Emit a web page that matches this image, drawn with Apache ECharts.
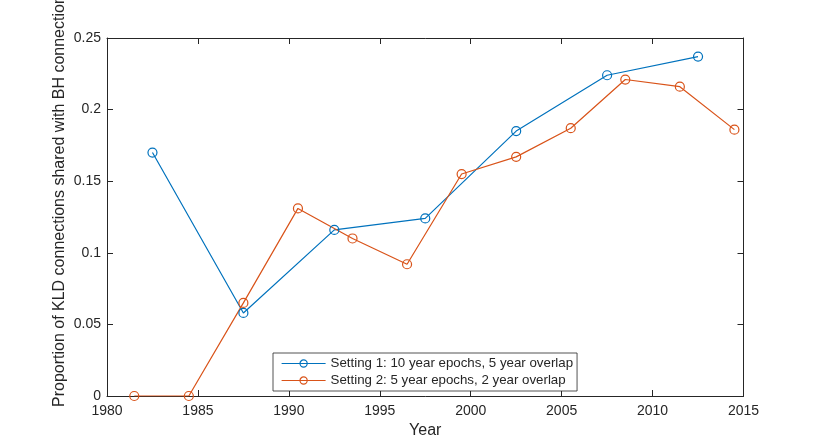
<!DOCTYPE html>
<html>
<head>
<meta charset="utf-8">
<script src="https://cdn.jsdelivr.net/npm/echarts@6/dist/echarts.min.js"></script>
<style>html,body{margin:0;padding:0;background:#fff}#c{width:822px;height:445px}</style>
</head>
<body>
<div id="c"></div>
<script>
var years1 = [1982.5, 1987.5, 1992.5, 1997.5, 2002.5, 2007.5, 2012.5];
var values1 = [0.170, 0.058, 0.116, 0.124, 0.185, 0.224, 0.237];
var years2 = [1981.5, 1984.5, 1987.5, 1990.5, 1993.5, 1996.5, 1999.5, 2002.5, 2005.5, 2008.5, 2011.5, 2014.5];
var values2 = [0, 0, 0.065, 0.131, 0.110, 0.092, 0.155, 0.167, 0.187, 0.221, 0.216, 0.186];
var name1 = 'Setting 1: 10 year epochs, 5 year overlap';
var name2 = 'Setting 2: 5 year epochs, 2 year overlap';
var xLabel = 'Year';
var yLabel = 'Proportion of KLD connections shared with BH connections';

var FONT = '"Liberation Sans", Arial, sans-serif';
var INK = '#262626';
var BLUE = '#0072BD', ORANGE = '#D95319';

function pairs(xs, ys) { return xs.map(function (x, i) { return [x, ys[i]]; }); }

function xAx(pos, show) {
  return {
    type: 'value', position: pos, min: 1980, max: 2015, interval: 5,
    name: show ? xLabel : '', nameLocation: 'middle', nameGap: 26,
    nameTextStyle: { fontFamily: FONT, fontSize: 16, color: INK },
    axisLine: { show: true, onZero: false, lineStyle: { color: INK, width: 1 } },
    axisTick: { show: true, inside: true, length: 6, lineStyle: { color: INK } },
    axisLabel: { show: show, margin: 8, fontFamily: FONT, fontSize: 14, color: INK,
      formatter: function (v) { return String(v); } },
    splitLine: { show: false }
  };
}
function yAx(pos, show) {
  return {
    type: 'value', position: pos, min: 0, max: 0.25, interval: 0.05,
    axisLine: { show: true, onZero: false, lineStyle: { color: INK, width: 1 } },
    axisTick: { show: true, inside: true, length: 6, lineStyle: { color: INK } },
    axisLabel: { show: show, margin: 6, fontFamily: FONT, fontSize: 14, color: INK },
    splitLine: { show: false }
  };
}
function ser(name, data, color) {
  return {
    name: name, type: 'line', data: data, xAxisIndex: 0, yAxisIndex: 0,
    symbol: 'circle', symbolSize: 9, showAllSymbol: true,
    lineStyle: { color: color, width: 1.2 },
    itemStyle: { color: 'rgba(255,255,255,0)', borderColor: color, borderWidth: 1.2 },
    emphasis: { disabled: true }, animation: false, z: 3
  };
}

var chart = echarts.init(document.getElementById('c'), null, { renderer: 'canvas' });
chart.setOption({
  backgroundColor: '#fff',
  animation: false,
  grid: { left: 107, right: 78.5, top: 38, bottom: 49, containLabel: false },
  xAxis: [xAx('bottom', true), xAx('top', false)],
  yAxis: [yAx('left', true), yAx('right', false)],
  legend: {
    orient: 'vertical', left: 273, top: 353,
    padding: [3, 4, 3, 8], itemGap: 2, itemWidth: 44, itemHeight: 9,
    backgroundColor: '#fff', borderColor: INK, borderWidth: 0.8, borderRadius: 0,
    textStyle: { fontFamily: FONT, fontSize: 13.3, color: INK, lineHeight: 15 },
    data: [
      { name: name1, itemStyle: { color: 'rgba(255,255,255,0)', borderColor: BLUE, borderWidth: 1.2 }, lineStyle: { color: BLUE, width: 1.2 } },
      { name: name2, itemStyle: { color: 'rgba(255,255,255,0)', borderColor: ORANGE, borderWidth: 1.2 }, lineStyle: { color: ORANGE, width: 1.2 } }
    ]
  },
  graphic: [{
    type: 'text', x: 60, y: 407, rotation: Math.PI / 2,
    style: { text: yLabel, fontFamily: FONT, fontSize: 16, fill: INK, align: 'left', verticalAlign: 'middle' }
  }],
  series: [ser(name1, pairs(years1, values1), BLUE), ser(name2, pairs(years2, values2), ORANGE)]
});
</script>
</body>
</html>
